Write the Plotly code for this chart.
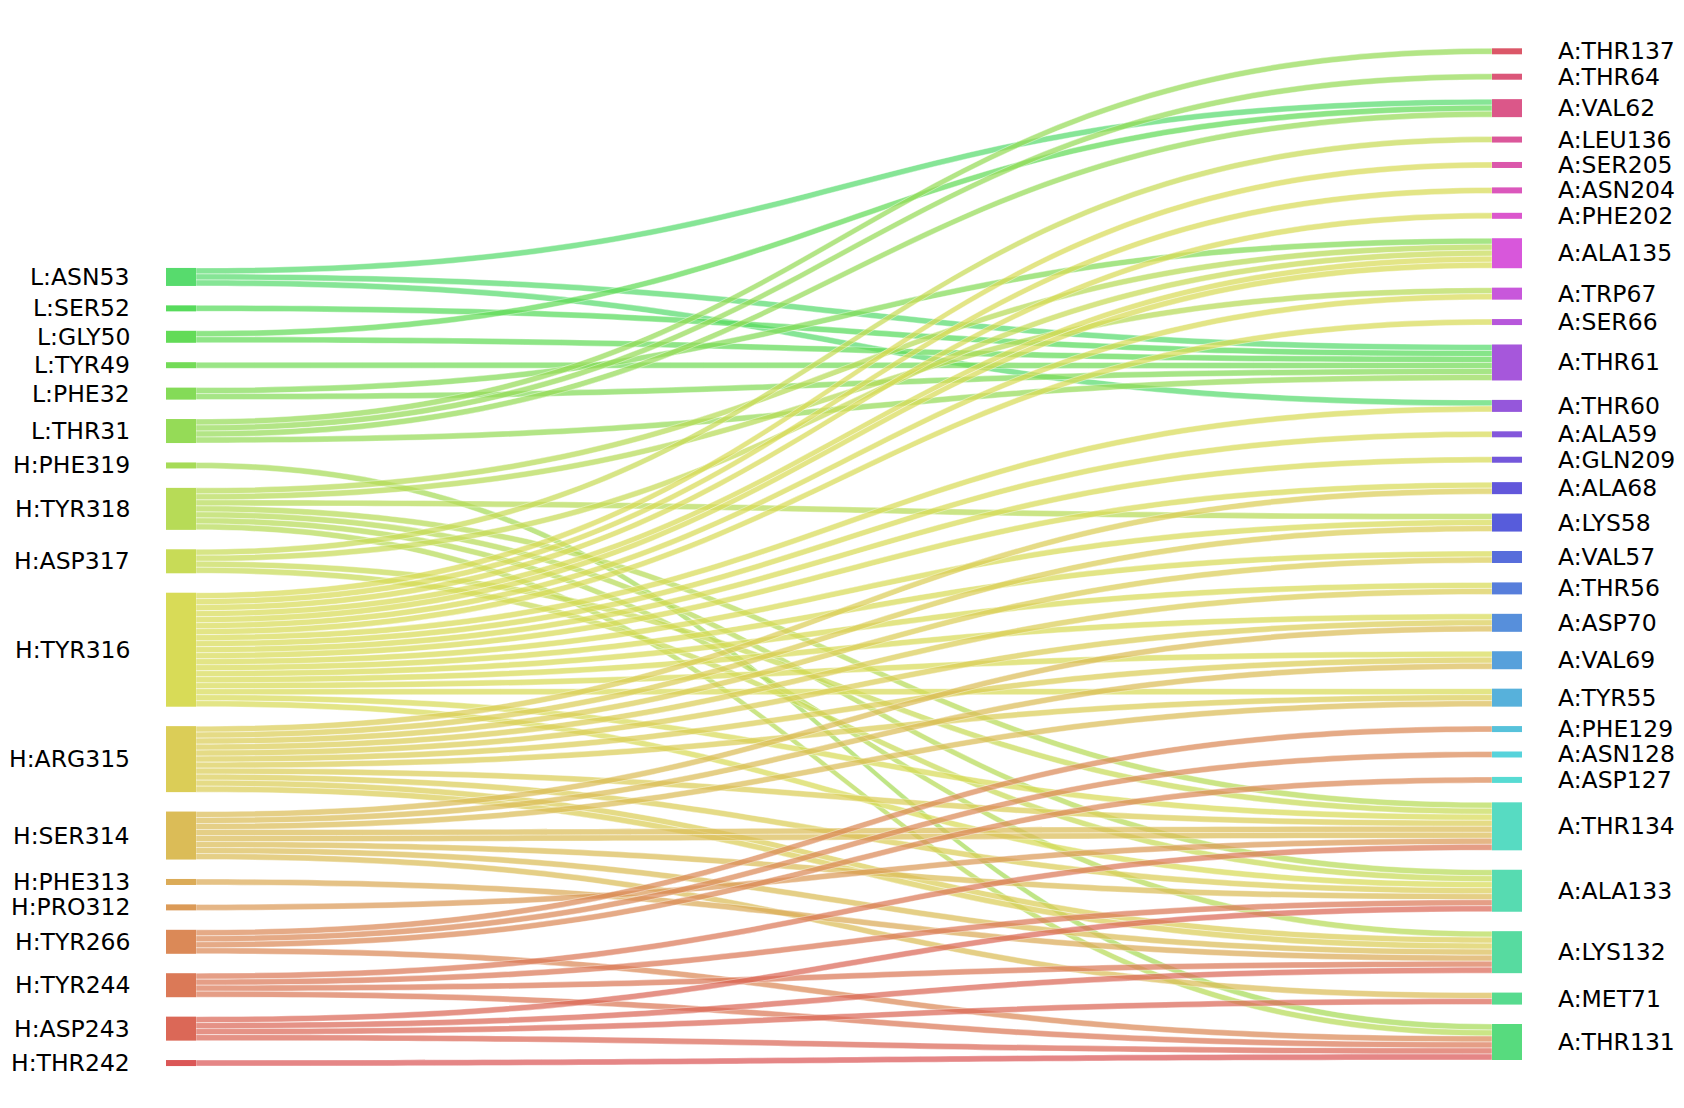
import colorsys
import plotly.graph_objects as go

# ---------------- data ----------------
left_nodes = ["L:ASN53", "L:SER52", "L:GLY50", "L:TYR49", "L:PHE32", "L:THR31",
              "H:PHE319", "H:TYR318", "H:ASP317", "H:TYR316", "H:ARG315", "H:SER314",
              "H:PHE313", "H:PRO312", "H:TYR266", "H:TYR244", "H:ASP243", "H:THR242"]

right_nodes = ["A:THR137", "A:THR64", "A:VAL62", "A:LEU136", "A:SER205", "A:ASN204",
               "A:PHE202", "A:ALA135", "A:TRP67", "A:SER66", "A:THR61", "A:THR60",
               "A:ALA59", "A:GLN209", "A:ALA68", "A:LYS58", "A:VAL57", "A:THR56",
               "A:ASP70", "A:VAL69", "A:TYR55", "A:PHE129", "A:ASN128", "A:ASP127",
               "A:THR134", "A:ALA133", "A:LYS132", "A:MET71", "A:THR131"]

link_source = (["L:ASN53"] * 3 + ["L:SER52"] + ["L:GLY50"] * 2 + ["L:TYR49"] +
               ["L:PHE32"] * 2 + ["L:THR31"] * 4 + ["H:PHE319"] + ["H:TYR318"] * 7 +
               ["H:ASP317"] * 4 + ["H:TYR316"] * 18 + ["H:ARG315"] * 10 + ["H:SER314"] * 7 +
               ["H:PHE313"] + ["H:PRO312"] + ["H:TYR266"] * 4 + ["H:TYR244"] * 4 +
               ["H:ASP243"] * 4 + ["H:THR242"])

link_target = ([  # L:ASN53
    "A:VAL62", "A:THR61", "A:THR60",
    # L:SER52
    "A:THR61",
    # L:GLY50
    "A:VAL62", "A:THR61",
    # L:TYR49
    "A:THR61",
    # L:PHE32
    "A:ALA135", "A:THR61",
    # L:THR31
    "A:THR137", "A:THR64", "A:VAL62", "A:THR61",
    # H:PHE319
    "A:THR131",
    # H:TYR318
    "A:ALA135", "A:TRP67", "A:LYS58", "A:THR134", "A:ALA133", "A:LYS132", "A:THR131",
    # H:ASP317
    "A:LEU136", "A:ALA135", "A:THR134", "A:ALA133",
    # H:TYR316
    "A:SER205", "A:ASN204", "A:PHE202", "A:ALA135", "A:TRP67", "A:SER66", "A:THR60",
    "A:ALA59", "A:GLN209", "A:ALA68", "A:LYS58", "A:VAL57", "A:THR56", "A:ASP70",
    "A:VAL69", "A:TYR55", "A:THR134", "A:ALA133",
    # H:ARG315
    "A:ALA68", "A:LYS58", "A:VAL57", "A:THR56", "A:ASP70", "A:VAL69", "A:TYR55",
    "A:THR134", "A:ALA133", "A:LYS132",
    # H:SER314
    "A:ASP70", "A:VAL69", "A:TYR55", "A:THR134", "A:ALA133", "A:LYS132", "A:MET71",
    # H:PHE313
    "A:LYS132",
    # H:PRO312
    "A:THR134",
    # H:TYR266
    "A:PHE129", "A:ASN128", "A:ASP127", "A:THR131",
    # H:TYR244
    "A:THR134", "A:ALA133", "A:LYS132", "A:THR131",
    # H:ASP243
    "A:ALA133", "A:LYS132", "A:MET71", "A:THR131",
    # H:THR242
    "A:THR131"])

link_count = ([1, 1, 1] + [1] + [1, 1] + [1] + [1, 1] + [1, 1, 1, 1] + [1] +
              [1] * 7 + [1] * 4 +
              [1, 1, 1, 2, 1, 1, 1, 1, 1, 1, 1, 1, 1, 1, 1, 1, 1, 1] +
              [1, 1, 1, 1, 1, 1, 1, 1, 1, 2] +
              [1, 1, 1, 2, 1, 1, 1] +
              [1] + [1] + [1] * 4 + [1] * 4 + [1] * 4 + [1])

# ---------------- geometry / style ----------------
PAGE_MARGIN = 8                      # default <body> margin of the html page
FIG_W, FIG_H = 1684 - 2 * PAGE_MARGIN, 1108 - 2 * PAGE_MARGIN
DOM_X_PX = (166.0 - PAGE_MARGIN, 1522.0 - PAGE_MARGIN)
DOM_Y_PX = (48.3 - PAGE_MARGIN, 1060.0 - PAGE_MARGIN)   # top, bottom (px from top)
LEFT_CENTER_PX = 667.0 - PAGE_MARGIN
NODE_THICK = 30
UNIT_PX = 6.0
LINK_ALPHA = 0.72
LEFT_LABEL_X = 130 - PAGE_MARGIN + 2
RIGHT_LABEL_X = 1558 - PAGE_MARGIN - 2
FONT = "DejaVu Sans"
FONT_SIZE = 23.5

nodes = left_nodes + right_nodes
index = {n: i for i, n in enumerate(nodes)}

hue_order = left_nodes[::-1] + right_nodes[::-1]
node_rgb = {}
for k, n in enumerate(hue_order):
    r, g, b = colorsys.hls_to_rgb(k / len(hue_order), 0.6, 0.65)
    node_rgb[n] = (int(round(r * 255)), int(round(g * 255)), int(round(b * 255)))

totals = {n: 0 for n in nodes}
for s, t, c in zip(link_source, link_target, link_count):
    totals[s] += c
    totals[t] += c

Hpx = DOM_Y_PX[1] - DOM_Y_PX[0]
Wpx = DOM_X_PX[1] - DOM_X_PX[0]
total_flow = sum(link_count)
node_pad = (Hpx - UNIT_PX * total_flow) / (len(right_nodes) - 1)
ky = min((Hpx - (len(col) - 1) * node_pad) / total_flow for col in (left_nodes, right_nodes))

center = {}
y = 0.0
for n in right_nodes:
    h = totals[n] * ky
    center[n] = y + h / 2
    y += h + node_pad
left_height = sum(totals[n] * ky for n in left_nodes) + (len(left_nodes) - 1) * node_pad
y = (LEFT_CENTER_PX - DOM_Y_PX[0]) - left_height / 2
for n in left_nodes:
    h = totals[n] * ky
    center[n] = y + h / 2
    y += h + node_pad

node_x = []
node_y = []
for n in nodes:
    if n in left_nodes:
        node_x.append((NODE_THICK / 2) / Wpx)
    else:
        node_x.append(1 - (NODE_THICK / 2) / Wpx)
    node_y.append(center[n] / Hpx)

node_colors = ["rgb(%d,%d,%d)" % node_rgb[n] for n in nodes]

src, tgt, val, lcol = [], [], [], []
for s, t, c in zip(link_source, link_target, link_count):
    for _ in range(c):
        src.append(index[s])
        tgt.append(index[t])
        val.append(1)
        lcol.append("rgba(%d,%d,%d,%.2f)" % (node_rgb[s] + (LINK_ALPHA,)))

fig = go.Figure(go.Sankey(
    arrangement="fixed",
    domain=dict(x=[DOM_X_PX[0] / FIG_W, DOM_X_PX[1] / FIG_W],
                y=[1 - DOM_Y_PX[1] / FIG_H, 1 - DOM_Y_PX[0] / FIG_H]),
    node=dict(label=nodes, x=node_x, y=node_y, pad=node_pad, thickness=NODE_THICK,
              color=node_colors,
              line=dict(color="rgba(0,0,0,0)", width=0)),
    link=dict(source=src, target=tgt, value=val, color=lcol,
              line=dict(color="rgba(255,255,255,0.4)", width=1)),
    textfont=dict(color="rgba(0,0,0,0)", size=1),
))

annotations = []
for n in nodes:
    ypaper = 1 - (DOM_Y_PX[0] + center[n]) / FIG_H
    if n in left_nodes:
        annotations.append(dict(x=LEFT_LABEL_X / FIG_W, y=ypaper, xref="paper", yref="paper",
                                text=n, showarrow=False, xanchor="right", yanchor="middle",
                                font=dict(family=FONT, size=FONT_SIZE, color="black")))
    else:
        annotations.append(dict(x=RIGHT_LABEL_X / FIG_W, y=ypaper, xref="paper", yref="paper",
                                text=n, showarrow=False, xanchor="left", yanchor="middle",
                                font=dict(family=FONT, size=FONT_SIZE, color="black")))

fig.update_layout(width=FIG_W, height=FIG_H, margin=dict(l=0, r=0, t=0, b=0),
                  paper_bgcolor="white", plot_bgcolor="white",
                  font=dict(family=FONT), annotations=annotations)

fig.write_html("out.html")
